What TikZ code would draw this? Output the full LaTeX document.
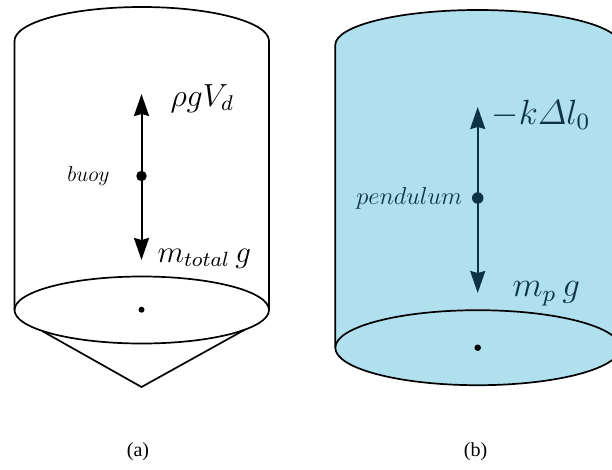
\documentclass[tikz,border=0pt]{standalone}
\usepackage[no-math]{fontspec}
\newfontfamily\capfont{Liberation Serif}
\usetikzlibrary{arrows.meta}
\definecolor{pendfill}{HTML}{B0DFEE}
\definecolor{pendink}{HTML}{0E3346}
\tikzset{
  px/.style={x=1pt,y=-1pt},
  outline/.style={line width=1.7pt,line join=round},
  force/.style={line width=2pt,-{Stealth[inset=2pt,length=22pt,width=15pt]}},
  bigdot/.style={circle,fill,inner sep=0pt,minimum size=#1},
  lab/.style={inner sep=0pt,anchor=base west,font=\fontsize{12}{12}\selectfont,scale=#1/12},
  capt/.style={inner sep=0pt,font=\capfont\fontsize{20}{22}\selectfont}
}
\begin{document}
\begin{tikzpicture}[px]
\useasboundingbox (0,0) rectangle (612,469);
% ---------- (a) buoy
\draw[outline] (14.5,310) -- (14.5,41)
   arc [start angle=180,end angle=360,x radius=127.25,y radius=34] -- (269,310);
\draw[outline] (141.75,310) ellipse [x radius=127.25,y radius=33.5];
\coordinate (atip) at (141.5,387);
\coordinate (atanl) at (43,331.5);
\coordinate (atanr) at (245,329.6);
\draw[outline] (atanl) -- (atip) -- (atanr);
\node[bigdot=10.5pt,fill=black] (adot) at (141.5,176) {};
\node[bigdot=6pt,fill=black] (acen) at (141.5,309.7) {};
\coordinate (aup) at (141.5,94);
\coordinate (adown) at (141.5,260);
\draw[force] (adot.center) -- (aup);
\draw[force] (adot.center) -- (adown);
\node[lab=32] (alab1) at (170,106) {$\rho g V_{d}$};
\node[lab=31] (alab2) at (157,262) {$m_{total}\,g$};
\node[lab=21.5] (abuoy) at (67,181) {$buoy$};
\node[capt] (acap) at (138,452) {(a)};
% ---------- (b) pendulum
\begin{scope}
\clip (0,0) rectangle (612,469);
\fill[pendfill] (335.3,347.7) -- (335.3,45)
   arc [start angle=180,end angle=360,x radius=142.4,y radius=35] -- (620.1,347.7)
   arc [start angle=0,end angle=180,x radius=142.4,y radius=37.5] -- cycle;
\draw[outline] (335.3,347.7) -- (335.3,45)
   arc [start angle=180,end angle=360,x radius=142.4,y radius=35] -- (620.1,347.7);
\draw[outline] (477.7,347.7) ellipse [x radius=142.4,y radius=37.5];
\end{scope}
\node[bigdot=11.5pt,fill=pendink] (bdot) at (477.7,198) {};
\node[bigdot=6.5pt,fill=black] (bcen) at (477.7,347.7) {};
\coordinate (bup) at (477.7,107);
\coordinate (bdown) at (477.7,293);
\draw[force,draw=pendink,fill=pendink] (bdot.center) -- (bup);
\draw[force,draw=pendink,fill=pendink] (bdot.center) -- (bdown);
\node[lab=35,text=pendink] (blab1) at (491,124) {$-k\mathnormal{\Delta} l_{0}$};
\node[lab=35,text=pendink] (blab2) at (512,296) {$m_{p}\,g$};
\node[lab=24.5,text=pendink] (bpend) at (356,204) {$pendulum$};
\node[capt] (bcap) at (475.5,452) {(b)};
\end{tikzpicture}
\end{document}
